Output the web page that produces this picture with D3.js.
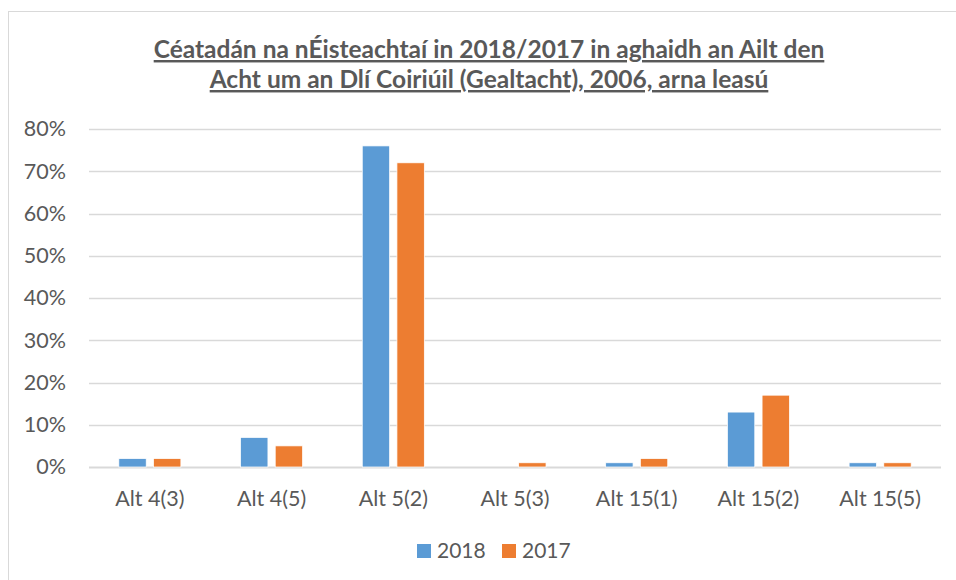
<!DOCTYPE html>
<html>
<head>
<meta charset="utf-8">
<script src="https://cdn.jsdelivr.net/npm/d3@7"></script>
<style>
  body { margin: 0; background: #fff; }
  text { font-family: Lato, "Open Sans", sans-serif; }
</style>
</head>
<body>
<div id="chart"></div>
<script>
// data
var categories = ["Alt 4(3)", "Alt 4(5)", "Alt 5(2)", "Alt 5(3)", "Alt 15(1)", "Alt 15(2)", "Alt 15(5)"]
var years = ["2018", "2017"]
var values2018 = [2, 7, 76, 0, 1, 13, 1]
var values2017 = [2, 5, 72, 1, 2, 17, 1]
var yTicks = [0, 10, 20, 30, 40, 50, 60, 70, 80]
var titleLines = ["Céatadán na nÉisteachtaí in 2018/2017 in aghaidh an Ailt den",
                  "Acht um an Dlí Coiriúil (Gealtacht), 2006, arna leasú"]

var width = 956
    height = 580
var margin = {top: 129, right: 15, bottom: 113, left: 89}
var colors = {"2018": "#5B9BD5", "2017": "#ED7D31"}
var textColor = "#595959"

var svg = d3.select("#chart")
  .append("svg")
    .attr("width", width)
    .attr("height", height)

// outer chart border
svg.append("rect")
  .attr("x", 8.5)
  .attr("y", 11.5)
  .attr("width", width + 20)
  .attr("height", height + 20)
  .attr("fill", "none")
  .attr("stroke", "#D9D9D9")
  .attr("stroke-width", 1)

// title
svg.selectAll("titleLines")
  .data(titleLines)
  .enter()
  .append("text")
    .attr("x", 489)
    .attr("y", function(d, i) { return 58 + i * 30 })
    .attr("text-anchor", "middle")
    .style("font-size", "24.5px")
    .style("font-weight", "bold")
    .style("text-decoration", "underline")
    .attr("fill", textColor)
    .text(function(d) { return d })

var x0 = d3.scaleBand()
  .domain(categories)
  .range([margin.left, width - margin.right])

var x1 = d3.scaleBand()
  .domain(years)
  .range([0, x0.bandwidth()])
  .paddingInner(0.21)
  .paddingOuter(0.86)

var y = d3.scaleLinear()
  .domain([0, 80])
  .range([height - margin.bottom, margin.top])

// gridlines
svg.append("g")
  .selectAll("line")
  .data(yTicks)
  .enter()
  .append("line")
    .attr("x1", margin.left)
    .attr("x2", width - margin.right)
    .attr("y1", function(d) { return Math.round(y(d)) + 0.5 })
    .attr("y2", function(d) { return Math.round(y(d)) + 0.5 })
    .attr("stroke", "#D9D9D9")
    .attr("stroke-width", function(d) { return d == 0 ? 2 : 1.5 })

// y axis labels
var yAxis = d3.axisLeft(y)
  .tickValues(yTicks)
  .tickSize(0)
  .tickPadding(23)
  .tickFormat(function(d) { return d + "%" })

svg.append("g")
  .attr("transform", "translate(" + margin.left + ",0)")
  .call(yAxis)
  .call(function(g) { g.select(".domain").remove() })
  .selectAll("text")
    .style("font-size", "21.5px")
    .style("font-family", "Lato, sans-serif")
    .attr("fill", textColor)

// x axis labels
var xAxis = d3.axisBottom(x0)
  .tickSize(0)
  .tickPadding(24)

svg.append("g")
  .attr("transform", "translate(0," + y(0) + ")")
  .call(xAxis)
  .call(function(g) { g.select(".domain").remove() })
  .selectAll("text")
    .style("font-size", "21.5px")
    .style("font-family", "Lato, sans-serif")
    .attr("fill", textColor)

// bars
var rows = categories.map(function(c, i) {
  return {cat: c, values: [{year: "2018", v: values2018[i]}, {year: "2017", v: values2017[i]}]}
})

svg.append("g")
  .selectAll("g")
  .data(rows)
  .enter()
  .append("g")
    .attr("transform", function(d) { return "translate(" + x0(d.cat) + ",0)" })
  .selectAll("rect")
  .data(function(d) { return d.values })
  .enter()
  .append("rect")
    .attr("x", function(d) { return x1(d.year) })
    .attr("y", function(d) { return y(d.v) })
    .attr("width", x1.bandwidth())
    .attr("height", function(d) { return y(0) - y(d.v) })
    .attr("fill", function(d) { return colors[d.year] })
    .attr("stroke", "#fff")
    .attr("stroke-width", 0.75)

// legend
var legend = svg.selectAll("legendItems")
  .data(years)
  .enter()
  .append("g")
    .attr("transform", function(d, i) { return "translate(" + (417 + i * 85) + ",544)" })

legend.append("rect")
  .attr("width", 14)
  .attr("height", 14)
  .attr("fill", function(d) { return colors[d] })

legend.append("text")
  .attr("x", 20)
  .attr("y", 14)
  .style("font-size", "21px")
  .attr("fill", textColor)
  .text(function(d) { return d })
</script>
</body>
</html>
